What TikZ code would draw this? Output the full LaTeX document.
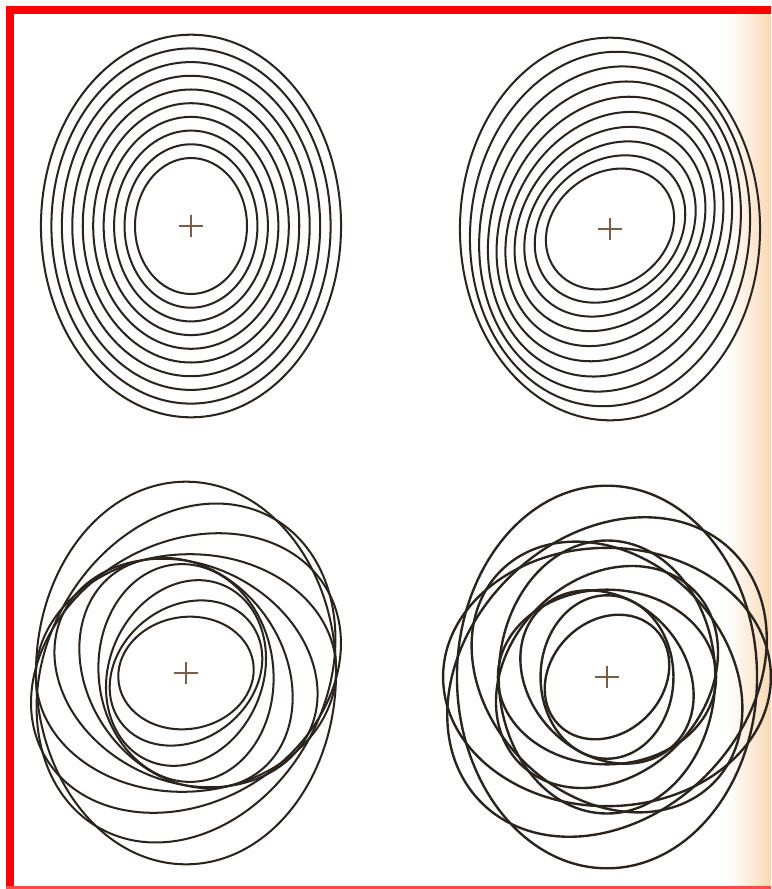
\documentclass[tikz,border=0pt]{standalone}
\definecolor{ink}{HTML}{2A241E}
\definecolor{crossc}{HTML}{7A5E48}
\definecolor{frame}{HTML}{FF0000}
\definecolor{frameline}{HTML}{FF4A4A}
\definecolor{paper}{HTML}{F9D9B4}
\tikzset{
  ring/.style={draw=ink,line width=1.15pt},
  crossmark/.style={draw=crossc,line width=0.7pt},
}
\begin{document}
\begin{tikzpicture}[x=0.02cm,y=-0.02cm]
\useasboundingbox (0,0) rectangle (771,889);
\fill[white] (0,0) rectangle (771,889);
\shade[left color=white,right color=paper] (728,14) rectangle (771,886);
\fill[frame] (6,6) rectangle (771,14);
\fill[frame] (6,6) rectangle (14,889);
\draw[frameline,line width=1.2pt] (6,887.5) -- (771,887.5);

\coordinate (c1) at (191,226);
\coordinate (c2) at (610,229);
\coordinate (c3) at (186,673);
\coordinate (c4) at (607,677);

% top-left: aligned ellipses
\foreach \i in {0,...,9} {
  \pgfmathsetmacro\ra{56+10.45*\i}
  \pgfmathsetmacro\rb{68+13.7*\i}
  \draw[ring] (c1) ellipse [x radius=\ra, y radius=\rb];
}
% top-right: small twist
\foreach \i in {0,...,9} {
  \pgfmathsetmacro\ra{56+10.45*\i}
  \pgfmathsetmacro\rb{68+13.7*\i}
  \pgfmathsetmacro\rr{-6*(9-\i)}
  \draw[ring,rotate around={\rr:(c2)}] (c2) ellipse [x radius=\ra, y radius=\rb];
}
% bottom-left: larger twist
\foreach \i in {0,...,9} {
  \pgfmathsetmacro\ra{56+10.45*\i}
  \pgfmathsetmacro\rb{68+13.7*\i}
  \pgfmathsetmacro\rr{-29*(9-\i)}
  \draw[ring,rotate around={\rr:(c3)}] (c3) ellipse [x radius=\ra, y radius=\rb];
}
% bottom-right: largest twist
\foreach \i in {0,...,9} {
  \pgfmathsetmacro\ra{56+10.45*\i}
  \pgfmathsetmacro\rb{68+13.7*\i}
  \pgfmathsetmacro\rr{-45*(9-\i)}
  \draw[ring,line width=1.35pt,rotate around={\rr:(c4)}] (c4) ellipse [x radius=\ra, y radius=\rb];
}

\foreach \c in {c1,c2,c3,c4} {
  \draw[crossmark] (\c) ++(-12,0) -- ++(24,0);
  \draw[crossmark] (\c) ++(0,-11) -- ++(0,22);
}
\end{tikzpicture}
\end{document}
